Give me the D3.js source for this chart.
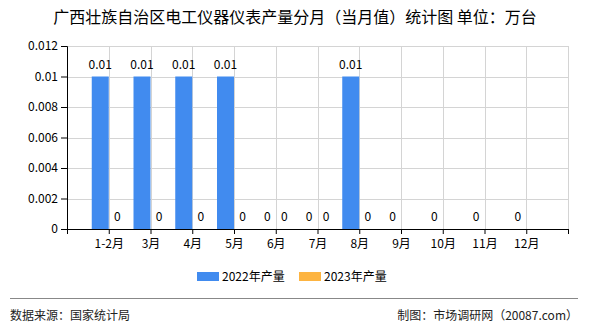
<!DOCTYPE html>
<html>
<head>
<meta charset="utf-8">
<script src="https://cdn.jsdelivr.net/npm/d3@7"></script>
<style>
  body { margin: 0; background: #fff; }
  svg text { font-family: "Noto Sans CJK SC", "DejaVu Sans", sans-serif; }
</style>
</head>
<body>
<svg id="chart"></svg>
<script>
const months = ["1-2月", "3月", "4月", "5月", "6月", "7月", "8月", "9月", "10月", "11月", "12月"];
const values2022 = [0.01, 0.01, 0.01, 0.01, 0, 0, 0.01, 0, 0, 0, 0];
const values2023 = [0, 0, 0, 0, 0, 0, 0, null, null, null, null];
const yTicks = [0, 0.002, 0.004, 0.006, 0.008, 0.01, 0.012];
const seriesNames = ["2022年产量", "2023年产量"];
const colors = ["#418bef", "#fdb441"];

const width = 590, height = 330;
const margin = {top: 46, right: 22, bottom: 101, left: 67};

const svg = d3.select("#chart")
    .attr("width", width)
    .attr("height", height);

// title
svg.append("text")
   .attr("x", width / 2)
   .attr("y", 23)
   .attr("text-anchor", "middle")
   .attr("font-size", 16)
   .attr("fill", "#000")
   .text("广西壮族自治区电工仪器仪表产量分月（当月值）统计图 单位：万台");

// categories sit on the ticks 1..11, ticks run 0..12
const x = d3.scaleLinear()
    .domain([0, months.length + 1])
    .range([margin.left, width - margin.right]);

const y = d3.scaleLinear()
    .domain([0, 0.012])
    .range([height - margin.bottom, margin.top]);

const barW = 17;

// grid
const grid = svg.append("g").attr("stroke", "#d4d4d4").attr("stroke-width", 1);
grid.selectAll(".hg")
    .data(yTicks.slice(1))
    .enter().append("line")
    .attr("x1", margin.left).attr("x2", width - margin.right)
    .attr("y1", d => Math.round(y(d)) + 0.5).attr("y2", d => Math.round(y(d)) + 0.5);
grid.selectAll(".vg")
    .data(d3.range(1, months.length + 2))
    .enter().append("line")
    .attr("x1", d => Math.round(x(d)) + 0.5).attr("x2", d => Math.round(x(d)) + 0.5)
    .attr("y1", margin.top).attr("y2", height - margin.bottom);

// bars
const series = [values2022, values2023];
series.forEach((vals, s) => {
    svg.append("g").selectAll("rect")
       .data(vals.map((v, i) => ({v, i})).filter(d => d.v !== null))
       .enter().append("rect")
       .attr("x", d => s === 0 ? x(d.i + 1) - barW : x(d.i + 1))
       .attr("y", d => y(d.v))
       .attr("width", barW)
       .attr("height", d => y(0) - y(d.v))
       .attr("fill", colors[s]);

    svg.append("g").selectAll("text")
       .data(vals.map((v, i) => ({v, i})).filter(d => d.v !== null))
       .enter().append("text")
       .attr("x", d => (s === 0 ? x(d.i + 1) - barW / 2 : x(d.i + 1) + barW / 2))
       .attr("y", d => y(d.v) - 8)
       .attr("text-anchor", "middle")
       .attr("font-size", 12)
       .attr("fill", "#000")
       .text(d => d.v);
});

// axes
const xAxis = d3.axisBottom(x)
    .tickValues(d3.range(0, months.length + 2))
    .tickSize(5)
    .tickFormat(d => months[d - 1] || "");
svg.append("g")
   .attr("transform", `translate(0,${height - margin.bottom})`)
   .call(xAxis)
   .call(g => g.selectAll("text").attr("font-size", 12).attr("fill", "#000").attr("dy", "0.9em"))
   .call(g => g.selectAll("line, path").attr("stroke", "#000"));

const yAxis = d3.axisLeft(y)
    .tickValues(yTicks)
    .tickSize(6)
    .tickFormat(d => d === 0 ? "0" : d3.format("")(+d.toFixed(3)));
svg.append("g")
   .attr("transform", `translate(${margin.left},0)`)
   .call(yAxis)
   .call(g => g.selectAll("text").attr("font-size", 12).attr("fill", "#000"))
   .call(g => g.selectAll("line, path").attr("stroke", "#000"));

// legend
const legend = svg.append("g").attr("transform", "translate(197,272)");
seriesNames.forEach((name, i) => {
    const lg = legend.append("g").attr("transform", `translate(${i * 102},0)`);
    lg.append("rect").attr("width", 22).attr("height", 9).attr("fill", colors[i]);
    lg.append("text").attr("x", 25).attr("y", 9).attr("font-size", 12).attr("fill", "#000").text(name);
});

// footer
svg.append("line")
   .attr("x1", 10).attr("x2", 578)
   .attr("y1", 298.5).attr("y2", 298.5)
   .attr("stroke", "#888");
svg.append("text")
   .attr("x", 10).attr("y", 320)
   .attr("font-size", 12).attr("fill", "#222")
   .text("数据来源：国家统计局");
svg.append("text")
   .attr("x", 578).attr("y", 320)
   .attr("text-anchor", "end")
   .attr("font-size", 12).attr("fill", "#222")
   .text("制图：市场调研网（20087.com）");
</script>
</body>
</html>
